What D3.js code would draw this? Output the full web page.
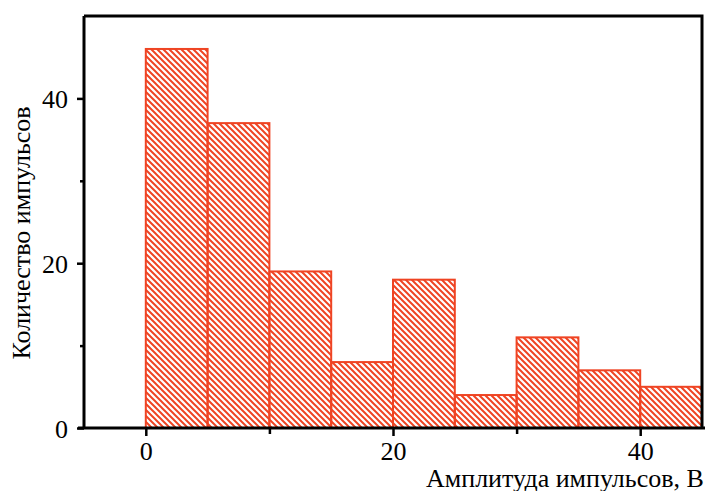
<!DOCTYPE html>
<html>
<head>
<style>
  body { margin: 0; background: #fff; overflow: hidden; }
  text { font-family: "Liberation Serif", "Times New Roman", serif; }
</style>
<script src="https://d3js.org/d3.v7.min.js"></script>
</head>
<body>
<script>
  // histogram bins (left edges), width 5
  const binStarts = [0, 5, 10, 15, 20, 25, 30, 35, 40];
  const binWidth = 5;
  const counts = [46, 37, 19, 8, 18, 4, 11, 7, 5];
  const xTicks = [0, 10, 20, 30, 40];
  const yTicks = [0, 10, 20, 30, 40];

  const w = 705, h = 491;
  const m = { left: 84, right: 3, top: 16, bottom: 63 };
  const color = "#ef4423";

  const svg = d3.select("body").append("svg")
    .attr("width", w).attr("height", h);

  const defs = svg.append("defs");
  const pat = defs.append("pattern")
    .attr("id", "hatch")
    .attr("patternUnits", "userSpaceOnUse")
    .attr("width", 6).attr("height", 6);
  pat.append("path")
    .attr("d", "M-1,-1 L7,7 M-4,2 L1,7 M5,-1 L8,2")
    .attr("stroke", color).attr("stroke-width", 2);

  const x = d3.scaleLinear().domain([-5, 45]).range([m.left, w - m.right]);
  const y = d3.scaleLinear().domain([0, 50]).range([h - m.bottom, m.top]);

  // bars
  svg.selectAll("rect.bar")
    .data(counts)
    .enter()
    .append("rect")
    .attr("class", "bar")
    .attr("x", (d, i) => x(binStarts[i]))
    .attr("y", d => y(d))
    .attr("width", (d, i) => x(binStarts[i] + binWidth) - x(binStarts[i]))
    .attr("height", d => y(0) - y(d))
    .attr("fill", "url(#hatch)")
    .attr("stroke", color)
    .attr("stroke-width", 2);

  // frame: top and right
  svg.append("path")
    .attr("d", `M${m.left},${m.top} H${w - m.right} V${h - m.bottom}`)
    .attr("fill", "none").attr("stroke", "#000").attr("stroke-width", 3);

  const xAxis = d3.axisBottom(x)
    .tickValues(xTicks)
    .tickSize(7)
    .tickPadding(7)
    .tickFormat(d => d % 20 === 0 ? d : "");
  const gx = svg.append("g")
    .attr("transform", `translate(0,${h - m.bottom})`)
    .call(xAxis);
  gx.select(".domain").remove();
  gx.append("line")
    .attr("x1", m.left - 6).attr("x2", w)
    .attr("stroke", "#000").attr("stroke-width", 3);
  gx.selectAll(".tick line")
    .attr("stroke-width", 2.5)
    .attr("y2", d => d % 20 === 0 ? 8 : 6);
  gx.selectAll(".tick text")
    .attr("font-size", 26).attr("fill", "#000");

  const yAxis = d3.axisLeft(y)
    .tickValues(yTicks)
    .tickSize(6)
    .tickPadding(10)
    .tickFormat(d => d % 20 === 0 ? d : "");
  const gy = svg.append("g")
    .attr("transform", `translate(${m.left},0)`)
    .call(yAxis);
  gy.select(".domain").remove();
  gy.append("line")
    .attr("y1", m.top).attr("y2", h - m.bottom)
    .attr("stroke", "#000").attr("stroke-width", 3);
  gy.selectAll(".tick line")
    .attr("stroke-width", 2.5)
    .attr("x2", d => d % 20 === 0 ? -7 : -4);
  gy.selectAll(".tick text")
    .attr("font-size", 26).attr("fill", "#000")
    .attr("dy", "0.35em");

  // axis labels
  svg.append("text")
    .attr("x", 426).attr("y", 487)
    .attr("font-size", 26)
    .attr("fill", "#000")
    .text("Амплитуда импульсов, В");

  svg.append("text")
    .attr("transform", `translate(30,${(m.top + h - m.bottom) / 2 + 11}) rotate(-90)`)
    .attr("text-anchor", "middle")
    .attr("font-size", 26)
    .attr("fill", "#000")
    .text("Количество импульсов");
</script>
</body>
</html>
